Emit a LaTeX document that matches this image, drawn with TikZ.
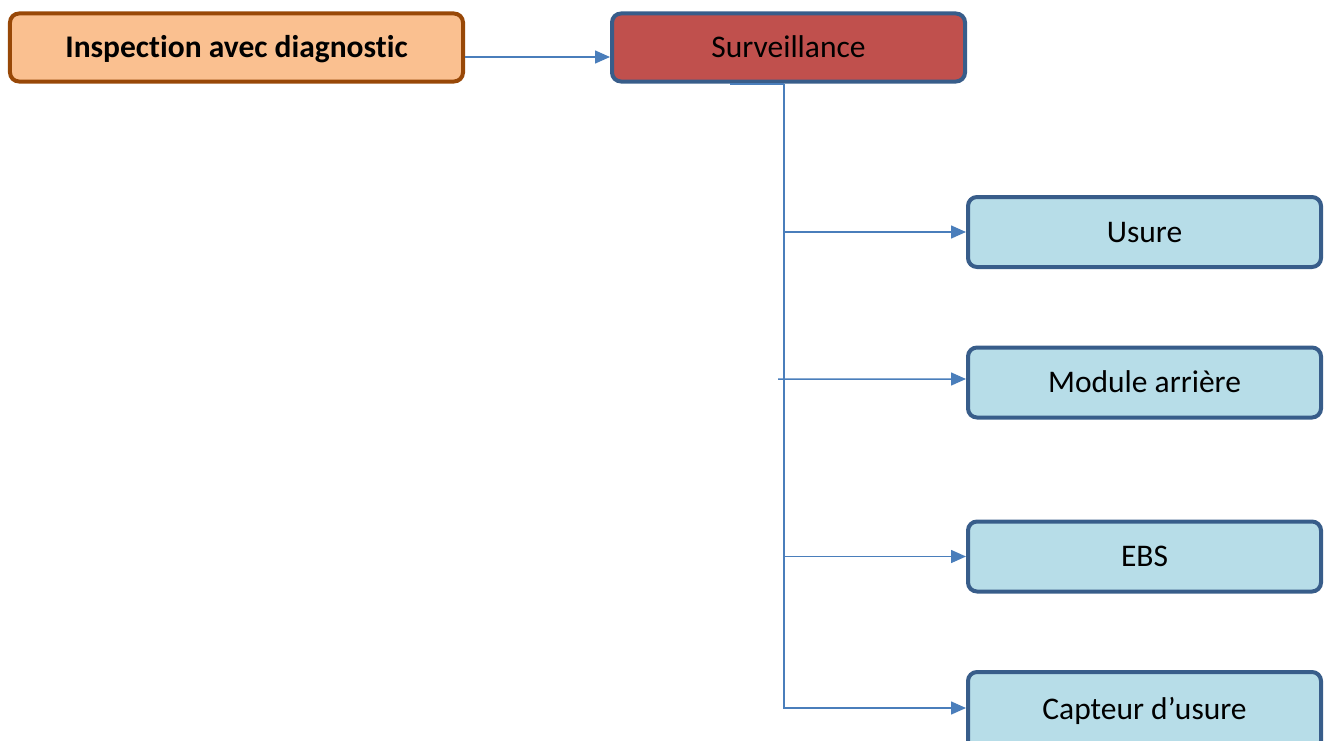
\documentclass[tikz,border=0pt]{standalone}
\usepackage{fontspec}
\setmainfont{Carlito}[Ligatures={NoCommon}]
\usetikzlibrary{arrows.meta}
\definecolor{peachfill}{HTML}{FAC090}
\definecolor{brownline}{HTML}{984807}
\definecolor{redfill}{HTML}{C0504D}
\definecolor{navyline}{HTML}{385D8A}
\definecolor{lightblue}{HTML}{B7DDE8}
\definecolor{linkblue}{HTML}{4A7EBB}
\begin{document}
\begin{tikzpicture}[x=1bp,y=-1bp,
  box/.style={rounded corners=9bp, line width=4bp, draw=navyline,
    inner sep=0pt, text height=20bp, text depth=0bp,
    font=\fontsize{31.5bp}{37bp}\selectfont},
  topbox/.style={box, minimum height=68bp, minimum width=353bp},
  leafbox/.style={box, fill=lightblue, minimum height=70bp, minimum width=353bp},
  conn/.style={draw=linkblue, line width=1.5bp,
    -{Triangle[length=15bp,width=13bp]}},
  wire/.style={draw=linkblue, line width=1.5bp}]
  \useasboundingbox (0,0) rectangle (1325,740);
  \clip (0,0) rectangle (1325,740);

  % top row
  \node[topbox, fill=peachfill, draw=brownline, minimum width=453bp,
        font=\fontsize{31.5bp}{37bp}\selectfont\bfseries]
       (insp) at (236.5,47.5) {Inspection avec diagnostic};
  \node[topbox, fill=redfill] (surv) at (788.5,47.5) {Surveillance};

  % branches
  \node[leafbox] (usure) at (1144.5,232) {Usure};
  \node[leafbox] (module) at (1144.5,382.5) {Module arrière};
  \node[leafbox] (ebs) at (1144.5,556.5) {EBS};
  % the last box runs past the lower edge of the page
  \node[leafbox, minimum height=78bp, text depth=4bp] (capteur) at (1144.5,711) {Capteur d’usure};

  % connectors
  \draw[conn] ([yshift=-9.5bp]insp.east) -- ([yshift=-9.5bp]surv.west);

  \coordinate (stubL) at (730,84);
  \coordinate (trunk) at (784,84);
  \draw[wire] (stubL) -- (trunk);
  \draw[conn] (trunk) |- ([yshift=3bp]capteur.west);
  \draw[conn] (trunk |- usure.west) -- (usure.west);
  \draw[conn] ([xshift=-6bp]trunk |- module.west) ++(0,-3.5) -- ([yshift=3.5bp]module.west);
  \draw[conn] (trunk |- ebs.west) -- (ebs.west);
\end{tikzpicture}
\end{document}
